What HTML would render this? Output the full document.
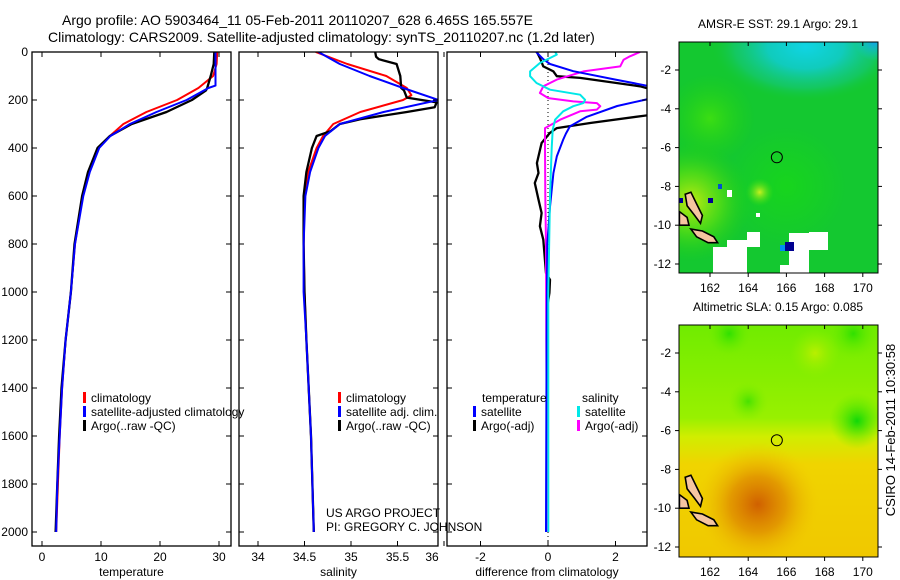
<!DOCTYPE html>
<html><head><meta charset="utf-8">
<style>
html,body{margin:0;padding:0;background:#fff;}
svg{display:block;font-family:"Liberation Sans","DejaVu Sans",sans-serif;}
</style></head>
<body>
<svg id="fig" width="900" height="580" viewBox="0 0 900 580" xmlns="http://www.w3.org/2000/svg">
<defs>
<radialGradient id="cyanEll" cx="0.5" cy="0.5" r="0.5">
<stop offset="0" stop-color="#10d4e4" stop-opacity="1"/>
<stop offset="0.4" stop-color="#10cccc" stop-opacity="0.9"/>
<stop offset="0.75" stop-color="#14c890" stop-opacity="0.5"/>
<stop offset="1" stop-color="#14c830" stop-opacity="0"/>
</radialGradient>
</defs>
<text x="62" y="25" font-size="14">Argo profile: AO 5903464_11 05-Feb-2011 20110207_628 6.465S 165.557E</text>
<text x="48" y="42" font-size="14">Climatology: CARS2009. Satellite-adjusted climatology: synTS_20110207.nc (1.2d later)</text>
<g id="panels"></g>
<g id="maps"></g>
<text transform="translate(895,430) rotate(-90)" text-anchor="middle" font-size="13">CSIRO 14-Feb-2011 10:30:58</text>
</svg>
<script>
// ---------- data ----------
const depthTicks = [0,200,400,600,800,1000,1200,1400,1600,1800,2000];
const tempTicks = [0,10,20,30];
const salTicks = [34,34.5,35,35.5,36];
const diffTicks = [-2,0,2];

const tClimDepth = [0,50,100,150,200,250,300,350,400,500,600,800,1000,1200,1400,1600,1800,2000];
const tClimVal   = [29.7,29.6,29.0,26.5,22.9,17.7,13.8,11.5,9.6,8.0,6.9,5.6,4.9,4.0,3.4,3.0,2.7,2.4];
const tSatDepth  = [0,50,100,140,150,200,250,300,350,400,500,600,800,1000,1200,1400,1600,1800,2000];
const tSatVal    = [29.4,29.4,29.4,29.4,28.2,24.5,19.4,14.9,11.6,9.7,8.1,7.0,5.6,4.9,4.0,3.4,3.0,2.6,2.4];
const tArgoDepth = [0,50,100,150,160,200,250,300,350,400,500,600,800,1000,1200,1400,1600,1800,2000];
const tArgoVal   = [29.2,29.1,28.6,28.0,27.8,25.4,21.1,15.2,11.5,9.4,7.8,6.8,5.5,4.9,4.0,3.3,2.9,2.6,2.3];

const sClimDepth = [0,50,100,150,180,200,250,300,350,400,500,600,800,1000,1200,1600,2000];
const sClimVal   = [34.62,34.96,35.38,35.6,35.65,35.56,35.1,34.81,34.7,34.63,34.54,34.5,34.49,34.5,34.52,34.57,34.6];
const sSatDepth  = [0,50,100,150,200,250,300,350,400,500,600,800,1000,1200,1600,2000];
const sSatVal    = [34.65,34.88,35.2,35.56,35.94,35.35,34.88,34.72,34.65,34.56,34.51,34.49,34.49,34.52,34.57,34.6];
const sArgoDepth = [0,20,30,50,100,150,160,190,210,230,250,280,300,330,350,400,500,600,800,1000,1200,1600,2000];
const sArgoVal   = [35.26,35.27,35.3,35.49,35.53,35.54,35.57,35.6,35.92,35.9,35.6,35.1,34.88,34.78,34.63,34.58,34.52,34.49,34.49,34.5,34.52,34.57,34.6];

const dTSatDepth = [0,30,50,80,115,145,165,195,225,270,310,340,365,435,505,645,800,1200,2000];
const dTSatVal   = [-0.35,-0.14,0.06,0.75,2.0,3.1,3.5,3.0,2.05,1.15,0.65,0.53,0.45,0.26,0.16,0.06,-0.02,-0.04,-0.06];
const dTArgoDepth = [0,25,60,81,101,108,143,157,210,261,296,317,338,379,463,504,546,615,671,726,782,921,949,1004,1060,1400,2000];
const dTArgoVal   = [-0.33,-0.24,-0.14,0.16,0.26,0.95,2.73,3.1,4.0,3.1,1.25,0.26,0.05,-0.19,-0.33,-0.28,-0.39,-0.28,-0.19,-0.24,-0.14,-0.06,0.06,0.04,-0.02,-0.03,-0.04];
const dSArgoDepth = [0,18,32,60,81,115,143,171,192,206,213,226,240,247,282,317,400,600,800,1200,2000];
const dSArgoVal   = [2.73,2.43,2.24,2.14,1.05,0.26,-0.14,-0.24,0.01,0.75,1.45,1.55,1.45,0.95,0.36,-0.09,-0.09,-0.08,-0.06,-0.05,-0.02];
const dSSatDepth = [0,11,25,46,81,101,129,157,178,199,213,226,247,282,324,400,600,1000,2000];
const dSSatVal   = [0.21,0.26,0.06,-0.24,-0.53,-0.53,-0.34,0.06,0.95,1.1,1.05,0.75,0.45,0.21,0.14,0.11,0.06,0.01,0.01];

// ---------- helpers ----------
const NS = "http://www.w3.org/2000/svg";
function mk(tag, attrs, parent){const e=document.createElementNS(NS,tag);for(const k in attrs)e.setAttribute(k,attrs[k]);parent.appendChild(e);return e;}
const TOP=52, BOT=546;
function yD(d){return TOP + d*0.24;}
const panelsG = document.getElementById('panels');

function makePanel(name, x0, x1, xScale, xticks, xlabel, tickFmt){
  const g = mk('g',{},panelsG);
  
  
  const clipId = name+'-clip';
  const cp = mk('clipPath',{id:clipId},g);
  mk('rect',{x:x0,y:TOP,width:x1-x0,height:BOT-TOP},cp);
  const plot = mk('g',{'clip-path':'url(#'+clipId+')'},g);
  const frame = mk('rect',{x:x0,y:TOP,width:x1-x0,height:BOT-TOP,fill:'none',stroke:'#000','stroke-width':1.3},g);
  
  
  xticks.forEach(v=>{
    const x = xScale(v);
    mk('line',{x1:x,x2:x,y1:TOP,y2:TOP+5,stroke:'#000'},g);
    mk('line',{x1:x,x2:x,y1:BOT,y2:BOT-5,stroke:'#000'},g);
    let tx = Math.min(x, x1-6);
    const t = mk('text',{x:tx,y:BOT+15,'text-anchor':'middle','font-size':12},g);
    t.textContent = tickFmt(v);
    
    
  });
  depthTicks.forEach(d=>{
    const y = yD(d);
    mk('line',{x1:x0,x2:x0+5,y1:y,y2:y,stroke:'#000'},g);
    mk('line',{x1:x1,x2:x1-5,y1:y,y2:y,stroke:'#000'},g);
  });
  const xl = mk('text',{x:(x0+x1)/2,y:BOT+30,'text-anchor':'middle','font-size':12},g);
  xl.textContent = xlabel;
  
  
  return {g, plot, xScale};
}
function drawLine(panel, depths, vals, color, nm, w){
  const d = depths.map((dp,i)=>(i?'L':'M')+panel.xScale(vals[i]).toFixed(1)+','+yD(dp).toFixed(1)).join(' ');
  const p = mk('path',{d:d,fill:'none',stroke:color,'stroke-width':w||2,'stroke-linejoin':'round'},panel.plot);
  
  
}
function legend(panel, x, y, color, label, nm){
  mk('rect',{x:x,y:y-10,width:3,height:11,fill:color},panel.g);
  const t = mk('text',{x:x+8,y:y,'font-size':12},panel.g);
  t.textContent = label;
  
  
}
function txt(parent, x, y, s, nm, anchor){
  const t = mk('text',{x:x,y:y,'font-size':12,'text-anchor':anchor||'start'},parent);
  t.textContent = s;
  
  
  return t;
}

depthTicks.forEach(d=>{
  txt(panelsG, 28, yD(d)+4, String(d), 'depth-tick-label', 'end');
});

const p1 = makePanel('temperature-panel', 32, 231, v=>42+v*5.9, tempTicks, 'temperature', v=>String(v));
drawLine(p1, tClimDepth, tClimVal, '#ff0000', 'temp-climatology-line');
drawLine(p1, tArgoDepth, tArgoVal, '#000000', 'temp-argo-line', 2.3);
drawLine(p1, tSatDepth, tSatVal, '#0000ff', 'temp-satellite-line');
legend(p1, 83, 402, '#ff0000', 'climatology', 'legend-climatology');
legend(p1, 83, 416, '#0000ff', 'satellite-adjusted climatology', 'legend-satellite-adjusted');
legend(p1, 83, 430, '#000000', 'Argo(..raw -QC)', 'legend-argo');

const p2 = makePanel('salinity-panel', 239, 438, v=>258+(v-34)*93, salTicks, 'salinity', v=>String(v));
drawLine(p2, sClimDepth, sClimVal, '#ff0000', 'sal-climatology-line');
drawLine(p2, sArgoDepth, sArgoVal, '#000000', 'sal-argo-line', 2.3);
drawLine(p2, sSatDepth, sSatVal, '#0000ff', 'sal-satellite-line');
legend(p2, 338, 402, '#ff0000', 'climatology', 'legend-sal-climatology');
legend(p2, 338, 416, '#0000ff', 'satellite adj. clim.', 'legend-sal-satellite');
legend(p2, 338, 430, '#000000', 'Argo(..raw -QC)', 'legend-sal-argo');
txt(p2.g, 326, 517, 'US ARGO PROJECT', 'project-credit');
txt(p2.g, 326, 531, 'PI: GREGORY C. JOHNSON', 'pi-credit');

const p3 = makePanel('difference-panel', 447, 647, v=>548+v*33.75, diffTicks, 'difference from climatology', v=>String(v));
mk('line',{x1:548,x2:548,y1:TOP,y2:BOT,stroke:'#000','stroke-dasharray':'1,3','stroke-width':1},p3.plot);
drawLine(p3, dTArgoDepth, dTArgoVal, '#000000', 'diff-temp-argo-line', 2.3);
drawLine(p3, dSArgoDepth, dSArgoVal, '#ff00ff', 'diff-sal-argo-line');
drawLine(p3, dTSatDepth, dTSatVal, '#0000ff', 'diff-temp-satellite-line');
drawLine(p3, dSSatDepth, dSSatVal, '#00e8e8', 'diff-sal-satellite-line');
txt(p3.g, 482, 402, 'temperature', 'legend-header-temperature');
txt(p3.g, 582, 402, 'salinity', 'legend-header-salinity');
legend(p3, 473, 416, '#0000ff', 'satellite', 'legend-diff-temp-satellite');
legend(p3, 473, 430, '#000000', 'Argo(-adj)', 'legend-diff-temp-argo');
legend(p3, 577, 416, '#00e8e8', 'satellite', 'legend-diff-sal-satellite');
legend(p3, 577, 430, '#ff00ff', 'Argo(-adj)', 'legend-diff-sal-argo');

// ---------- maps ----------
const mapsG = document.getElementById('maps');
const lonTicks = [162,164,166,168,170];
const latTicks = [-2,-4,-6,-8,-10,-12];
const argoLon = 165.5, argoLat = -6.5;
function makeMap(name, top, bottom, title, fill){
  const g = mk('g',{},mapsG);
  
  
  const x0=679, x1=878;
  const lx = lon=>710+(lon-162)*19.1;
  const ly = lat=>top+28+(-2-lat)*19.4;
  const cid = name+'-clip';
  const cp = mk('clipPath',{id:cid},g);
  mk('rect',{x:x0,y:top,width:x1-x0,height:bottom-top},cp);
  const inner = mk('g',{'clip-path':'url(#'+cid+')'},g);
  fill(inner, lx, ly, x0, x1, top, bottom);
  const isl1 = [[160.7,-8.4],[161.0,-8.3],[161.3,-8.9],[161.6,-9.5],[161.5,-9.9],[161.2,-9.5],[160.8,-9.0]];
  const isl2 = [[161.0,-10.2],[161.6,-10.3],[162.2,-10.6],[162.4,-10.9],[161.9,-10.9],[161.3,-10.6]];
  const isl3 = [[160.4,-9.3],[160.8,-9.6],[160.9,-10.0],[160.4,-10.0]];
  [isl1,isl2,isl3].forEach(pts=>{
    const p = mk('polygon',{points:pts.map(q=>lx(q[0]).toFixed(1)+','+ly(q[1]).toFixed(1)).join(' '),fill:'#f5c4a0',stroke:'#000','stroke-width':1.6},inner);
    
    
  });
  const c = mk('circle',{cx:lx(argoLon),cy:ly(argoLat),r:5.5,fill:'none',stroke:'#000','stroke-width':1},g);
  
  
  mk('rect',{x:x0,y:top,width:x1-x0,height:bottom-top,fill:'none',stroke:'#000','stroke-width':1},g);
  lonTicks.forEach(l=>{
    const x=lx(l);
    mk('line',{x1:x,x2:x,y1:top,y2:top+4,stroke:'#000'},g);
    mk('line',{x1:x,x2:x,y1:bottom,y2:bottom+4,stroke:'#000'},g);
    txt(g, x, bottom+19, String(l), name+'-lon-label', 'middle');
  });
  latTicks.forEach(l=>{
    const y=ly(l);
    mk('line',{x1:x0-4,x2:x0,y1:y,y2:y,stroke:'#000'},g);
    mk('line',{x1:x1,x2:x1+4,y1:y,y2:y,stroke:'#000'},g);
    txt(g, x0-8, y+4, String(l), name+'-lat-label', 'end');
  });
  txt(g, 778, top-14, title, name+'-title', 'middle');
}
function grad(parent, id, cx, cy, r, stops){
  const defs = mk('defs',{},parent);
  const rg = mk('radialGradient',{id:id,cx:cx,cy:cy,r:r,gradientUnits:'userSpaceOnUse'},defs);
  stops.forEach(s=>mk('stop',{offset:s[0],'stop-color':s[1],'stop-opacity':s[2]},rg));
}
makeMap('sst-map', 42, 273, 'AMSR-E SST: 29.1 Argo: 29.1', (g,lx,ly,x0,x1,t,b)=>{
  mk('rect',{x:x0,y:t,width:x1-x0,height:b-t,fill:'#14c830'},g);
  mk('ellipse',{cx:lx(167),cy:ly(-0.8),rx:95,ry:55,fill:'url(#cyanEll)'},g);
  grad(g,'cornerG',lx(170.6),ly(-0.5),20,[[0,'#10a0f0',1],[1,'#10c8e0',0]]);
  mk('rect',{x:x0,y:t,width:x1-x0,height:b-t,fill:'url(#cornerG)'},g);
  grad(g,'ylG',lx(161),ly(-8.8),60,[[0,'#c0ec10',1],[0.5,'#60e010',0.7],[1,'#20d010',0]]);
  mk('rect',{x:x0,y:t,width:x1-x0,height:b-t,fill:'url(#ylG)'},g);
  grad(g,'lgG',lx(162),ly(-4.5),45,[[0,'#40e010',0.9],[1,'#20d010',0]]);
  mk('rect',{x:x0,y:t,width:x1-x0,height:b-t,fill:'url(#lgG)'},g);
  grad(g,'lgG2',lx(166),ly(-8),60,[[0,'#18d818',0.8],[1,'#18d818',0]]);
  mk('rect',{x:x0,y:t,width:x1-x0,height:b-t,fill:'url(#lgG2)'},g);
  grad(g,'ylG2',lx(164.6),ly(-8.3),14,[[0,'#c8f020',1],[1,'#40e010',0]]);
  mk('rect',{x:x0,y:t,width:x1-x0,height:b-t,fill:'url(#ylG2)'},g);
  const whites=[[713,247,34,26],[727,240,20,8],[747,232,13,15],[780,265,10,8],[789,233,20,40],[809,232,19,18],[727,190,5,7],[756,213,4,4]];
  whites.forEach(w=>mk('rect',{x:w[0],y:w[1],width:w[2],height:w[3],fill:'#fff'},g));
  mk('rect',{x:785,y:242,width:9,height:9,fill:'#000090'},g);
  mk('rect',{x:780,y:245,width:5,height:6,fill:'#0090f0'},g);
  mk('rect',{x:708,y:198,width:5,height:5,fill:'#000090'},g);
  mk('rect',{x:718,y:184,width:4,height:5,fill:'#0050d0'},g);
  mk('rect',{x:679,y:198,width:4,height:5,fill:'#000090'},g);
});
makeMap('sla-map', 325, 557, 'Altimetric SLA: 0.15 Argo: 0.085', (g,lx,ly,x0,x1,t,b)=>{
  const defs = mk('defs',{},g);
  const lg = mk('linearGradient',{id:'slaLin',x1:0,y1:t,x2:0,y2:b,gradientUnits:'userSpaceOnUse'},defs);
  [[0,'#70ec00'],[0.4,'#98f000'],[0.48,'#d0ee00'],[0.6,'#f0d400'],[1,'#f0c800']].forEach(s=>mk('stop',{offset:s[0],'stop-color':s[1]},lg));
  mk('rect',{x:x0,y:t,width:x1-x0,height:b-t,fill:'url(#slaLin)'},g);
  grad(g,'orG',lx(164.5),ly(-9.8),62,[[0,'#d06000',1],[0.45,'#e09000',0.85],[1,'#f0c800',0]]);
  mk('rect',{x:x0,y:t,width:x1-x0,height:b-t,fill:'url(#orG)'},g);
  grad(g,'grG',lx(169.7),ly(-5.5),28,[[0,'#10d808',1],[1,'#60e800',0]]);
  mk('rect',{x:x0,y:t,width:x1-x0,height:b-t,fill:'url(#grG)'},g);
  grad(g,'grG2',lx(163),ly(-1),22,[[0,'#30e000',1],[1,'#70ec00',0]]);
  mk('rect',{x:x0,y:t,width:x1-x0,height:b-t,fill:'url(#grG2)'},g);
  grad(g,'grG3',lx(164),ly(-4.5),20,[[0,'#40e000',0.9],[1,'#80ee00',0]]);
  mk('rect',{x:x0,y:t,width:x1-x0,height:b-t,fill:'url(#grG3)'},g);
  grad(g,'grG4',lx(169.5),ly(-1),25,[[0,'#30e000',1],[1,'#70ec00',0]]);
  mk('rect',{x:x0,y:t,width:x1-x0,height:b-t,fill:'url(#grG4)'},g);
  grad(g,'ylTop',lx(167.5),ly(-2),25,[[0,'#c8f000',0.8],[1,'#98f000',0]]);
  mk('rect',{x:x0,y:t,width:x1-x0,height:b-t,fill:'url(#ylTop)'},g);
});
</script>
</body></html>
